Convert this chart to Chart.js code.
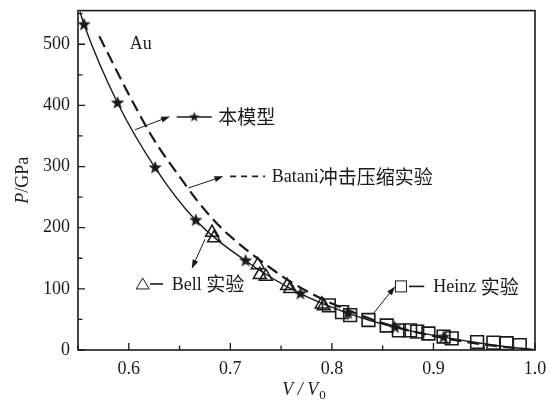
<!DOCTYPE html>
<html>
<head>
<meta charset="utf-8">
<script src="https://cdn.jsdelivr.net/npm/chart.js@4.4.1/dist/chart.umd.min.js"></script>
<style>
  html, body { margin: 0; padding: 0; background: #fff; }
  #wrap { width: 552px; height: 403px; }
</style>
</head>
<body>
<div id="wrap"><canvas id="eos"></canvas></div>
<script>
// V/V0 and P (GPa)
const modelCurveV = [0.552, 0.556, 0.589, 0.626, 0.666, 0.715, 0.769, 0.816, 0.862, 0.91, 0.955, 1.0];
const modelCurveP = [553, 532, 404, 298, 212, 146, 92, 60, 37, 21, 9, 0];
const modelStarV = [0.556, 0.589, 0.626, 0.666, 0.715, 0.769, 0.816, 0.862, 0.91];
const modelStarP = [532, 404, 298, 212, 146, 92, 60, 37, 21];
const bataniV = [0.571, 0.6, 0.624, 0.655, 0.667, 0.689, 0.704, 0.718, 0.743, 0.76, 0.78, 0.8, 0.85, 0.9, 0.95, 1.0];
const bataniP = [513, 418, 346, 272, 245, 203, 180, 161, 130, 111, 92, 76, 44, 23, 9, 0];
const bellV = [0.682, 0.684, 0.727, 0.729, 0.735, 0.756, 0.759, 0.79, 0.792];
const bellP = [192, 183, 139, 123, 120, 105, 100, 75, 72];
const heinzV = [0.797, 0.81, 0.818, 0.836, 0.854, 0.866, 0.877, 0.884, 0.895, 0.91, 0.918, 0.943, 0.959, 0.972, 0.985];
const heinzP = [73, 62, 57, 49, 40, 32, 32, 30, 27, 22, 19, 13, 12, 11, 8];

const xTicks = [0.6, 0.7, 0.8, 0.9, 1.0];
const xMinor = [0.55, 0.65, 0.75, 0.85, 0.95];
const yTicks = [0, 100, 200, 300, 400, 500];
const yMinor = [50, 150, 250, 350, 450, 550];

const serif = '"Liberation Serif", "DejaVu Serif", serif';
const cjk = '"Noto Sans CJK SC", sans-serif';
const ink = '#1a1a1a';

function pairs(xs, ys) {
    return xs.map((x, i) => ({ x: x, y: ys[i] }));
}

// filled five point star used as marker
function makeStar(r) {
    const s = Math.ceil(r * 2 + 2);
    const c = document.createElement('canvas');
    c.width = s; c.height = s;
    const g = c.getContext('2d');
    g.beginPath();
    for (let i = 0; i < 10; i++) {
        const a = -Math.PI / 2 + i * Math.PI / 5;
        const rr = i % 2 === 0 ? r : r * 0.42;
        g.lineTo(s / 2 + rr * Math.cos(a), s / 2 + rr * Math.sin(a));
    }
    g.closePath();
    g.fillStyle = ink;
    g.fill();
    return c;
}
const star = makeStar(7);
const smallStar = makeStar(5.5);

// annotation positions in data units
const notes = {
    au: { x: 0.601, y: 500 },
    model: { from: [0.606, 360], to: [0.6406, 382], line: [0.6472, 0.6817], y: 381, text: 0.688 },
    batani: { from: [0.6587, 265], to: [0.6932, 284], line: [0.6998, 0.7342], y: 284, text: 0.7408 },
    bell: { from: [0.675, 181], to: [0.662, 133], mark: 0.6137, line: [0.621, 0.6337], y: 108, text: 0.6423 },
    heinz: { from: [0.841, 60], to: [0.8623, 104], mark: 0.868, line: [0.876, 0.891], y: 104, text: 0.8998 }
};

// latin in serif, chinese in the CJK face, one run after another
function mixedText(ctx, str, x, y) {
    const runs = str.match(/[\u4e00-\u9fff]+|[^\u4e00-\u9fff]+/g);
    runs.forEach(r => {
        const isCjk = /[\u4e00-\u9fff]/.test(r);
        ctx.font = isCjk ? '19px ' + cjk : '18px ' + serif;
        ctx.fillText(r, x, y + (isCjk ? 0 : 1));
        x += ctx.measureText(r).width;
    });
}

function arrow(ctx, x1, y1, x2, y2) {
    const a = Math.atan2(y2 - y1, x2 - x1);
    ctx.beginPath();
    ctx.moveTo(x1, y1);
    ctx.lineTo(x2 - 6 * Math.cos(a), y2 - 6 * Math.sin(a));
    ctx.lineWidth = 1;
    ctx.stroke();
    ctx.beginPath();
    ctx.moveTo(x2, y2);
    ctx.lineTo(x2 - 9 * Math.cos(a) + 3 * Math.sin(a), y2 - 9 * Math.sin(a) - 3 * Math.cos(a));
    ctx.lineTo(x2 - 9 * Math.cos(a) - 3 * Math.sin(a), y2 - 9 * Math.sin(a) + 3 * Math.cos(a));
    ctx.closePath();
    ctx.fill();
}

const framePlugin = {
    id: 'frame',
    afterDraw(chart) {
        const ctx = chart.ctx;
        const a = chart.chartArea;
        const xs = chart.scales.x, ys = chart.scales.y;
        const X = v => xs.getPixelForValue(v);
        const Y = v => ys.getPixelForValue(v);
        ctx.save();
        ctx.strokeStyle = ink;
        ctx.fillStyle = ink;

        // box
        ctx.lineWidth = 1.6;
        ctx.strokeRect(a.left, a.top, a.right - a.left, a.bottom - a.top);

        // inward ticks
        ctx.lineWidth = 1.3;
        ctx.beginPath();
        xTicks.forEach(v => { ctx.moveTo(X(v), a.bottom); ctx.lineTo(X(v), a.bottom - 7); });
        xMinor.forEach(v => { ctx.moveTo(X(v), a.bottom); ctx.lineTo(X(v), a.bottom - 4.5); });
        yTicks.forEach(v => { ctx.moveTo(a.left, Y(v)); ctx.lineTo(a.left + 7, Y(v)); });
        yMinor.forEach(v => { ctx.moveTo(a.left, Y(v)); ctx.lineTo(a.left + 4.5, Y(v)); });
        ctx.stroke();

        // axis titles
        ctx.textBaseline = 'middle';
        ctx.save();
        ctx.translate(23, (a.top + a.bottom) / 2);
        ctx.rotate(-Math.PI / 2);
        ctx.font = 'italic 18px ' + serif;
        const wP = ctx.measureText('P').width;
        ctx.font = '18px ' + serif;
        const wR = ctx.measureText('/GPa').width;
        let sx = -(wP + wR) / 2;
        ctx.textAlign = 'left';
        ctx.font = 'italic 18px ' + serif;
        ctx.fillText('P', sx, 0);
        ctx.font = '18px ' + serif;
        ctx.fillText('/GPa', sx + wP, 0);
        ctx.restore();

        ctx.textAlign = 'left';
        ctx.font = 'italic 18px ' + serif;
        const main = 'V / V';
        const wm = ctx.measureText(main).width;
        ctx.font = '13px ' + serif;
        const ws = ctx.measureText('0').width;
        let tx = (a.left + a.right) / 2 - (wm + ws) / 2 - 3;
        ctx.font = 'italic 18px ' + serif;
        ctx.fillText(main, tx, 390);
        ctx.font = '13px ' + serif;
        ctx.fillText('0', tx + wm + 1, 396);

        // annotations
        ctx.font = '18px ' + serif;
        ctx.textBaseline = 'middle';
        ctx.fillText('Au', X(notes.au.x), Y(notes.au.y));

        let n = notes.model;
        arrow(ctx, X(n.from[0]), Y(n.from[1]), X(n.to[0]), Y(n.to[1]));
        ctx.lineWidth = 1.4;
        ctx.beginPath();
        ctx.moveTo(X(n.line[0]), Y(n.y)); ctx.lineTo(X(n.line[1]), Y(n.y));
        ctx.stroke();
        const mx = (X(n.line[0]) + X(n.line[1])) / 2;
        ctx.drawImage(smallStar, mx - smallStar.width / 2, Y(n.y) - smallStar.height / 2);
        mixedText(ctx, '本模型', X(n.text), Y(n.y));

        n = notes.batani;
        arrow(ctx, X(n.from[0]), Y(n.from[1]), X(n.to[0]), Y(n.to[1]));
        ctx.lineWidth = 1.6;
        ctx.setLineDash([6, 5]);
        ctx.beginPath();
        ctx.moveTo(X(n.line[0]), Y(n.y)); ctx.lineTo(X(n.line[1]), Y(n.y));
        ctx.stroke();
        ctx.setLineDash([]);
        mixedText(ctx, 'Batani冲击压缩实验', X(n.text), Y(n.y));

        n = notes.bell;
        arrow(ctx, X(n.from[0]), Y(n.from[1]), X(n.to[0]), Y(n.to[1]));
        ctx.lineWidth = 1;
        const bx = X(n.mark), by = Y(n.y);
        ctx.beginPath();
        ctx.moveTo(bx, by - 6); ctx.lineTo(bx + 6.5, by + 5); ctx.lineTo(bx - 6.5, by + 5);
        ctx.closePath(); ctx.stroke();
        ctx.lineWidth = 1.6;
        ctx.beginPath();
        ctx.moveTo(X(n.line[0]), by); ctx.lineTo(X(n.line[1]), by);
        ctx.stroke();
        mixedText(ctx, 'Bell 实验', X(n.text), by);

        n = notes.heinz;
        arrow(ctx, X(n.from[0]), Y(n.from[1]), X(n.to[0]), Y(n.to[1]));
        ctx.lineWidth = 1;
        const hx = X(n.mark), hy = Y(n.y);
        ctx.strokeRect(hx - 5.5, hy - 5.5, 11, 11);
        ctx.lineWidth = 1.6;
        ctx.beginPath();
        ctx.moveTo(X(n.line[0]), hy); ctx.lineTo(X(n.line[1]), hy);
        ctx.stroke();
        mixedText(ctx, 'Heinz 实验', X(n.text), hy);

        ctx.restore();
    }
};

new Chart(document.getElementById('eos'), {
    type: 'scatter',
    data: {
        datasets: [
            {
                label: '本模型',
                data: pairs(modelCurveV, modelCurveP),
                showLine: true,
                borderColor: ink,
                borderWidth: 1.4,
                pointRadius: 0,
                cubicInterpolationMode: 'monotone'
            },
            {
                label: '本模型 points',
                data: pairs(modelStarV, modelStarP),
                pointStyle: star,
                pointRadius: 7
            },
            {
                label: 'Batani冲击压缩实验',
                data: pairs(bataniV, bataniP),
                showLine: true,
                borderColor: ink,
                borderWidth: 2.2,
                borderDash: [12, 6],
                pointRadius: 0,
                cubicInterpolationMode: 'monotone'
            },
            {
                label: 'Bell 实验',
                data: pairs(bellV, bellP),
                pointStyle: 'triangle',
                pointRadius: 7.5,
                borderColor: ink,
                borderWidth: 1.5,
                backgroundColor: 'rgba(0,0,0,0)'
            },
            {
                label: 'Heinz 实验',
                data: pairs(heinzV, heinzP),
                pointStyle: 'rect',
                pointRadius: 9,
                borderColor: ink,
                borderWidth: 1.6,
                backgroundColor: 'rgba(0,0,0,0)'
            }
        ]
    },
    options: {
        responsive: true,
        maintainAspectRatio: false,
        animation: false,
        layout: { padding: { top: 8, right: 17, left: 0, bottom: 0 } },
        plugins: {
            legend: { display: false },
            tooltip: { enabled: false }
        },
        scales: {
            x: {
                type: 'linear',
                min: 0.55,
                max: 1.0,
                afterBuildTicks: s => { s.ticks = xTicks.map(v => ({ value: v })); },
                afterFit: s => { s.height = 53; s.paddingLeft = 0; s.paddingRight = 0; },
                grid: { display: false, drawTicks: false },
                border: { display: false },
                ticks: {
                    color: ink,
                    padding: 8,
                    font: { family: serif, size: 18 },
                    callback: v => v.toFixed(1)
                }
            },
            y: {
                type: 'linear',
                min: 0,
                max: 555,
                afterBuildTicks: s => { s.ticks = yTicks.map(v => ({ value: v })); },
                afterFit: s => { s.width = 78; s.paddingTop = 0; s.paddingBottom = 0; },
                grid: { display: false, drawTicks: false },
                border: { display: false },
                ticks: {
                    color: ink,
                    padding: 8,
                    font: { family: serif, size: 18 },
                    callback: v => String(v)
                }
            }
        }
    },
    plugins: [framePlugin]
});
</script>
</body>
</html>
